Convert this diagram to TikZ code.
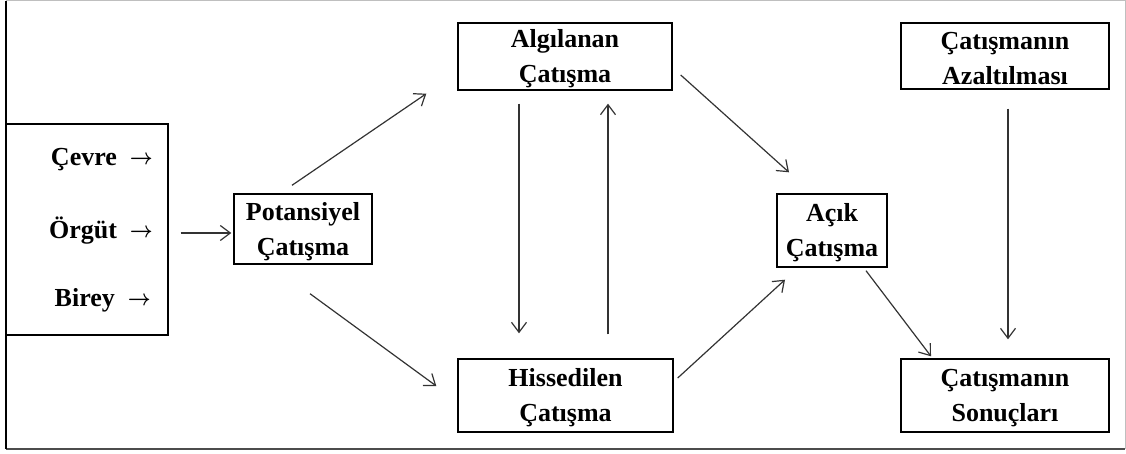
\documentclass[tikz,border=0pt]{standalone}
\usepackage{fontspec}
\setmainfont{Liberation Serif}
\usetikzlibrary{arrows.meta}
\newcommand{\tpstrut}{\rule{0pt}{23pt}}
\newcommand{\lblarrow}{\hspace{13pt}\raisebox{1pt}{\scalebox{0.8}[0.9]{\boldmath$\rightarrow$}}}
\begin{document}
\begin{tikzpicture}[x=1pt,y=-1pt,
  box/.style={draw=black,line width=1.4pt,inner sep=0pt,align=center,
    font=\bfseries\fontsize{26}{35}\selectfont},
  lbl/.style={inner sep=0pt,anchor=east,font=\bfseries\fontsize{26}{30}\selectfont},
  conn/.style={draw=black!80,line width=1.2pt,-{Straight Barb[length=10pt,width=15pt,line width=1.2pt]}}]
\useasboundingbox (0,0) rectangle (1126,454);
% outer frame
\draw[line width=1pt,black!25] (6,1) -- (1125,1) -- (1125,449);
\draw[line width=1.2pt,black!70] (6,449) -- (1125,449);
\draw[line width=1.3pt,black] (6,1) -- (6,449);
% boxes
\node[box,minimum width=162pt,minimum height=211pt] (left) at (87,229.5) {};
\node[box,minimum width=138pt,minimum height=70pt] (pot) at (303,229) {\tpstrut Potansiyel\\Çatışma};
\node[box,minimum width=214pt,minimum height=67pt] (alg) at (565,56.5) {\tpstrut Algılanan\\Çatışma};
\node[box,minimum width=215pt,minimum height=73pt] (his) at (565.5,395.5) {\tpstrut Hissedilen\\Çatışma};
\node[box,minimum width=110pt,minimum height=73pt] (acik) at (832,230.5) {\tpstrut Açık\\Çatışma};
\node[box,minimum width=208pt,minimum height=66pt] (azal) at (1005,56) {\tpstrut Çatışmanın\\Azaltılması};
\node[box,minimum width=208pt,minimum height=73pt] (son) at (1005,395.5) {\tpstrut Çatışmanın\\Sonuçları};
% left labels
\node[lbl] (cevre) at (153,160) {Çevre\lblarrow};
\node[lbl] (orgut) at (153,231) {Örgüt\lblarrow};
\node[lbl] (birey) at (151,300) {Birey\lblarrow};
% connectors
\draw[conn] ([shift={(12,3.5)}]left.east) -- ([shift={(-2,4)}]pot.west);
\draw[conn] ([shift={(-11,-8)}]pot.north) -- ([shift={(-31,3)}]alg.south west);
\draw[conn] ([shift={(7,29)}]pot.south) -- ([shift={(-21,-9.5)}]his.west);
\draw[conn] ([shift={(-46,13)}]alg.south) -- ([shift={(-46.5,-25)}]his.north);
\draw[conn] ([shift={(42.5,-24)}]his.north) -- ([shift={(43,13)}]alg.south);
\draw[conn] ([shift={(8,18.5)}]alg.east) -- ([shift={(-43,-21)}]acik.north);
\draw[conn] ([shift={(4,-17.5)}]his.east) -- ([shift={(-47,12)}]acik.south);
\draw[conn] ([shift={(34,3)}]acik.south) -- ([shift={(-74,-2)}]son.north);
\draw[conn] ([shift={(3,19)}]azal.south) -- ([shift={(3,-19)}]son.north);
\end{tikzpicture}
\end{document}
